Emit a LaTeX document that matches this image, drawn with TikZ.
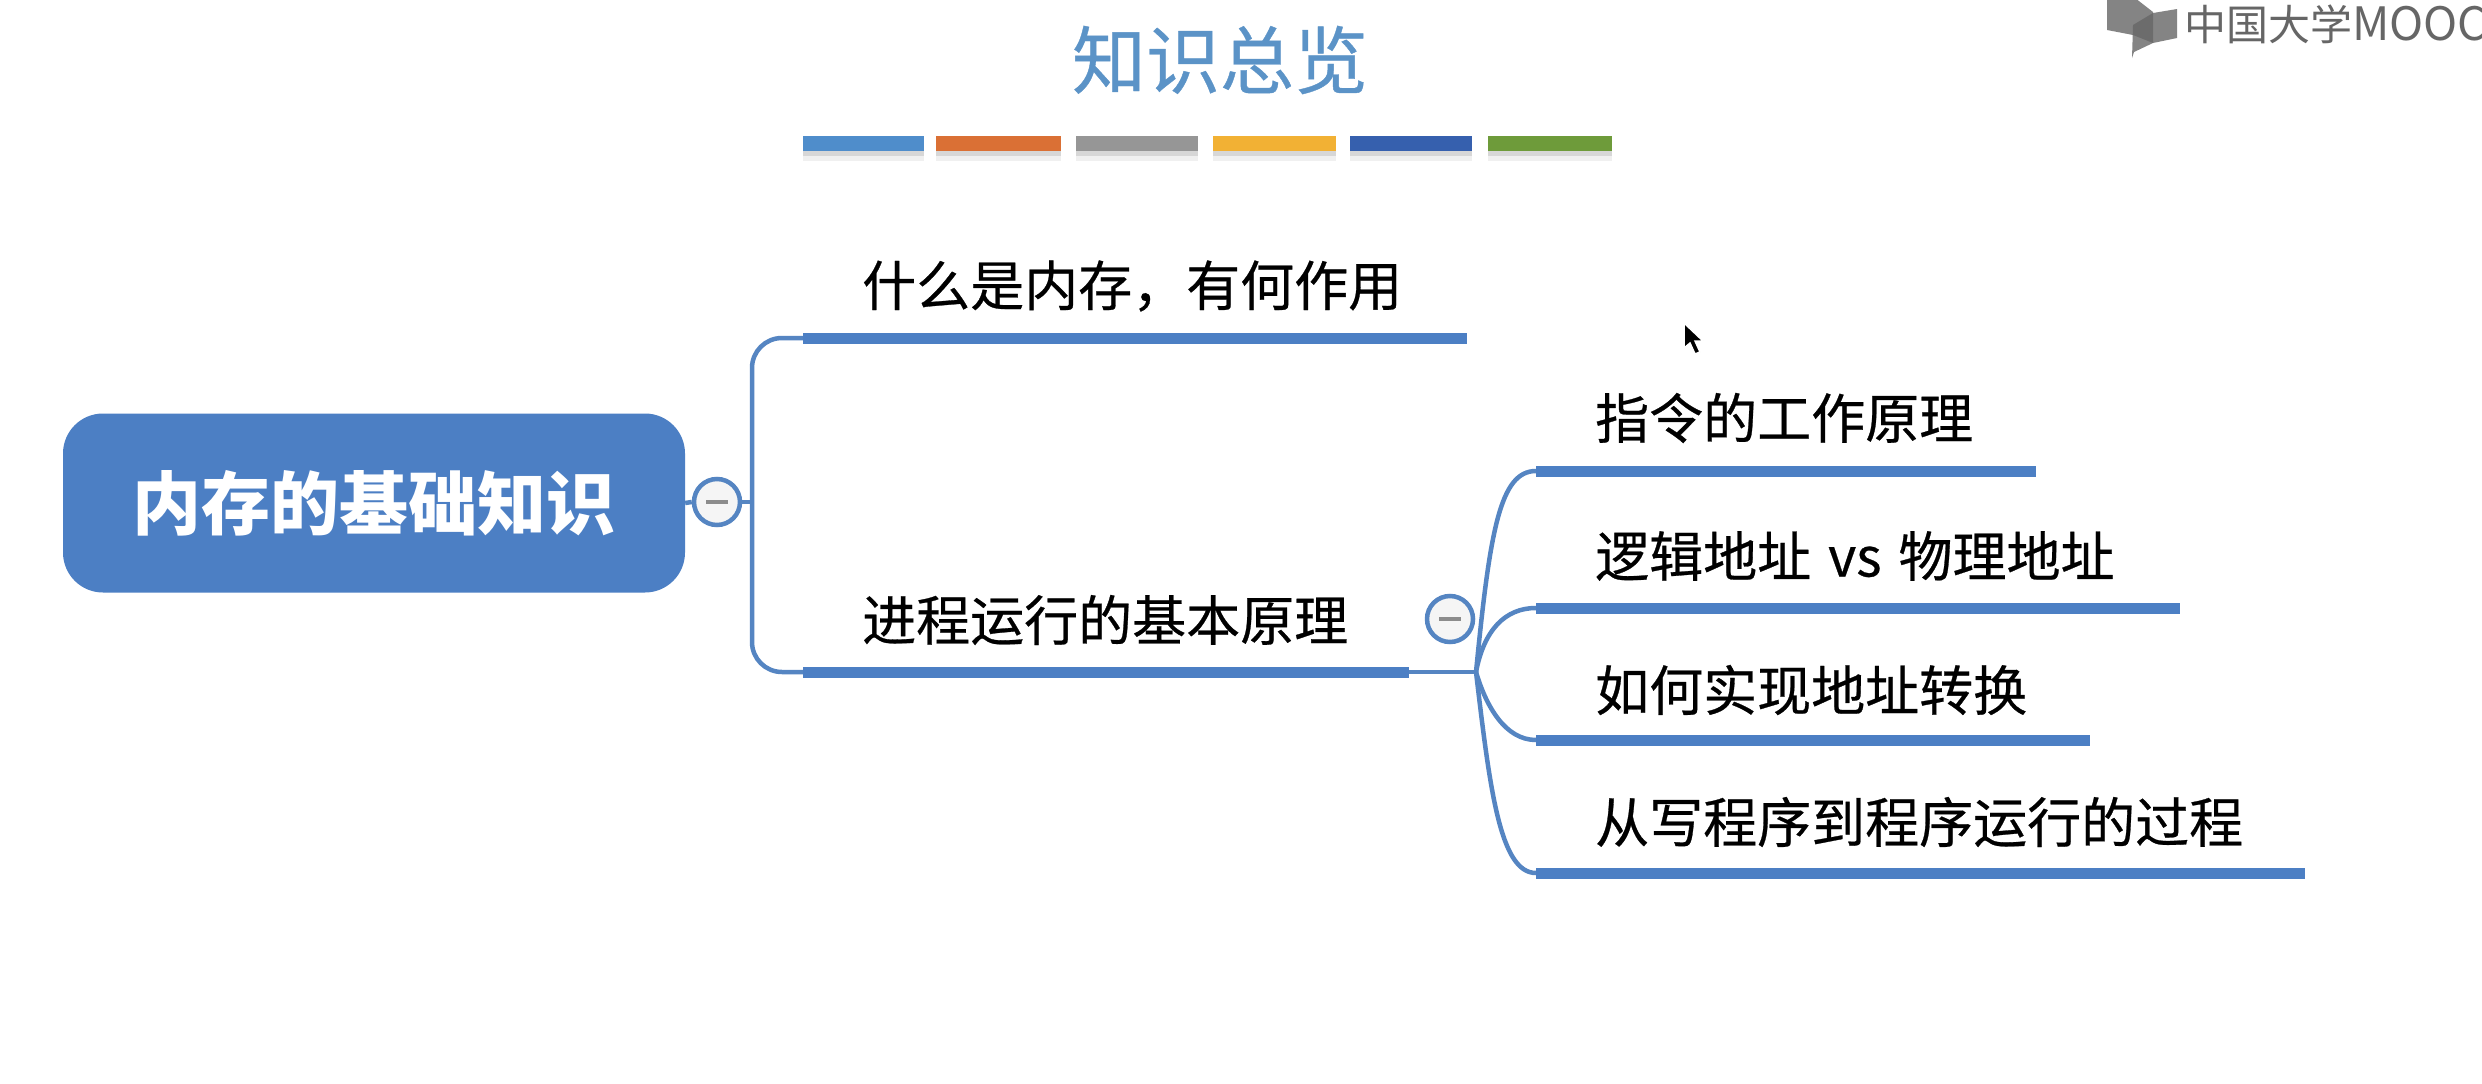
\documentclass[tikz,border=0pt]{standalone}
\usepackage{fontspec}
\setmainfont{Noto Sans CJK SC}
\newfontfamily\labelfont[FakeBold=0.5]{Noto Sans CJK SC}
\definecolor{rootblue}{HTML}{4C7FC4}
\definecolor{linkblue}{HTML}{5585C2}
\definecolor{titleblue}{HTML}{5B93C7}
\definecolor{barA}{HTML}{4F8DCB}
\definecolor{barB}{HTML}{DA7035}
\definecolor{barC}{HTML}{969696}
\definecolor{barD}{HTML}{F2B134}
\definecolor{barE}{HTML}{3660AE}
\definecolor{barF}{HTML}{6E9B3A}
\definecolor{logogray}{HTML}{666666}
\tikzset{
  x=1pt,y=-1pt,
  link/.style={draw=linkblue,line width=4.5pt},
  branchbar/.style={draw=rootblue,line width=11pt},
  label/.style={anchor=west,inner sep=0pt,text=black,font=\labelfont\fontsize{54}{60}\selectfont},
  toggle/.style={circle,draw=linkblue,line width=4.5pt,fill=white!96!black,minimum size=46pt,inner sep=0pt},
  dash mark/.style={draw=black!45,line width=4pt},
  logopage/.style={fill=logogray,fill opacity=.8,draw=none}
}
\newcommand{\colorbar}[3]{%
  \fill[black,opacity=.06] (#2,150) rectangle (#3,161);
  \fill[black,opacity=.10] (#2,150) rectangle (#3,156);
  \fill[#1] (#2,136) rectangle (#3,151);
}
\begin{document}
\begin{tikzpicture}
\useasboundingbox (0,0) rectangle (2482,1084);
\fill[white] (0,0) rectangle (2482,1084);

% title and colour bars
\node[inner sep=0pt,text=titleblue,font=\labelfont\fontsize{74}{80}\selectfont] (title) at (1220,60) {知识总览};
\colorbar{barA}{803}{924}
\colorbar{barB}{936}{1061}
\colorbar{barC}{1076}{1198}
\colorbar{barD}{1213}{1336}
\colorbar{barE}{1350}{1472}
\colorbar{barF}{1488}{1612}

% logo
\begin{scope}
\clip (2000,0) rectangle (2482,80);
\fill[logopage] (2107,-2) -- (2135,-2) -- (2153,12) -- (2153,43) -- (2133,35) -- (2107,30) -- cycle;
\fill[logopage] (2133,25) -- (2153,13) -- (2177,9) -- (2177,38) -- (2153,43) -- (2134,52) -- (2132,58) -- cycle;
\node[anchor=west,inner sep=0pt,text=logogray,font=\fontsize{42}{48}\selectfont] (logo) at (2184,24) {中国大学\fontsize{46}{48}\selectfont MOOC};
\end{scope}

% root
\node[fill=rootblue,rounded corners=40pt,minimum width=622pt,minimum height=179pt,inner sep=0pt,
      text=white,font=\fontsize{69}{76}\selectfont\bfseries] (root) at (374,503) {内存的基础知识};

% named points
\node[toggle] (t1) at (717,502) {};
\node[toggle] (t2) at (1450,619) {};
\coordinate (trunk) at (752,502);
\coordinate (b1s) at (803,338);  \coordinate (b1e) at (1467,338);
\coordinate (b2s) at (803,672);  \coordinate (b2e) at (1409,672);
\coordinate (hub) at (1476,672);
\coordinate (s1s) at (1536,471); \coordinate (s1e) at (2036,471);
\coordinate (s2s) at (1536,608); \coordinate (s2e) at (2180,608);
\coordinate (s3s) at (1536,740); \coordinate (s3e) at (2090,740);
\coordinate (s4s) at (1536,873); \coordinate (s4e) at (2305,873);

% connectors
\draw[link] (root.east) -- (t1.west);
\draw[link] (t1.east) -- (trunk);
\draw[link,rounded corners=30pt] (b1s) -| (trunk) |- (b2s);
\draw[link] (b2e) -- (hub);
\draw[link] (hub) .. controls (1490,530) and (1500,471) .. (s1s);
\draw[link] (hub) .. controls (1484,630) and (1505,608) .. (s2s);
\draw[link] (hub) .. controls (1486,706) and (1505,740) .. (s3s);
\draw[link] (hub) .. controls (1490,790) and (1500,873) .. (s4s);

% toggle minus signs
\draw[dash mark] ([xshift=-11pt]t1.center) -- ([xshift=11pt]t1.center);
\draw[dash mark] ([xshift=-11pt]t2.center) -- ([xshift=11pt]t2.center);

% branch bars
\draw[branchbar] (b1s) -- (b1e);
\draw[branchbar] (b2s) -- (b2e);
\draw[branchbar] (s1s) -- (s1e);
\draw[branchbar] (s2s) -- (s2e);
\draw[branchbar] (s3s) -- (s3e);
\draw[branchbar] (s4s) -- (s4e);

% labels
\node[label] (l1) at (862,286) {什么是内存，有何作用};
\node[label] (l2) at (862,620) {进程运行的基本原理};
\node[label] (l3) at (1595,418) {指令的工作原理};
\node[label] (l4) at (1595,556) {逻辑地址\hspace{17pt}vs\hspace{17pt}物理地址};
\node[label] (l5) at (1595,690) {如何实现地址转换};
\node[label] (l6) at (1595,822) {从写程序到程序运行的过程};

% mouse cursor
\fill[black,draw=white,line width=1.5pt] (1684,323) -- (1684,348) -- (1690,343) -- (1695,354) -- (1700,352) -- (1695,341) -- (1703,341) -- cycle;
\end{tikzpicture}
\end{document}
